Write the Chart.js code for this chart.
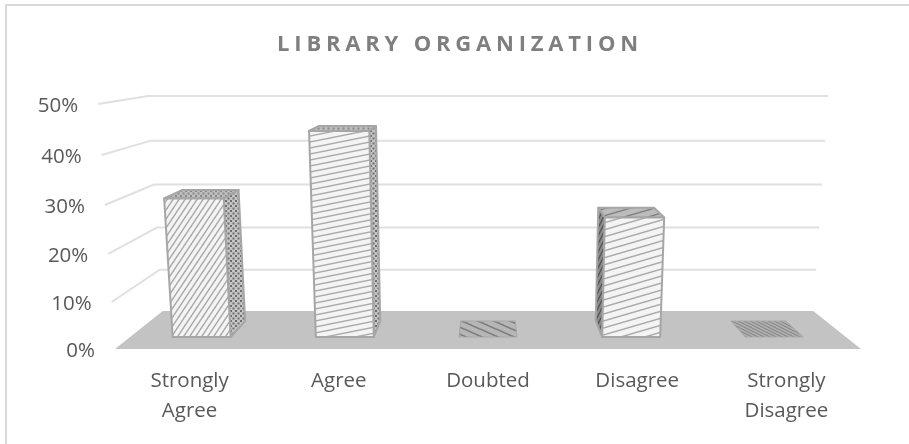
<!DOCTYPE html>
<html>
<head>
<meta charset="utf-8">
<title>Library Organization</title>
<script src="https://cdn.jsdelivr.net/npm/chart.js@4"></script>
<style>
  html, body { margin: 0; padding: 0; background: #fff; }
  #wrap { position: absolute; left: 0; top: 0; width: 909px; height: 444px; }
  #frame { position: absolute; left: 5px; top: 4px; right: 0; bottom: 0; border-left: 2px solid #d9d9d9; border-top: 2px solid #d9d9d9; }
  canvas { position: absolute; left: 0; top: 0; filter: blur(0.4px); }
</style>
</head>
<body>
<div id="wrap">
  <div id="frame"></div>
  <canvas id="orgChart" width="909" height="444"></canvas>
</div>
<script>
const categories = [['Strongly', 'Agree'], 'Agree', 'Doubted', 'Disagree', ['Strongly', 'Disagree']];
const percentages = [30, 44, 0, 26, 0];
const tickStep = 10;
const axisMax = 50;

// the picture is a 3d chart, so everything is projected from the front plane of the floor
const floorDepth = 38;
const faceDepth = 0.316;
const backDepth = 0.737;

function makePattern(w, h, bg, fg, lineW, dots) {
  const c = document.createElement('canvas');
  c.width = w;
  c.height = h;
  const g = c.getContext('2d');
  g.fillStyle = bg;
  g.fillRect(0, 0, w, h);
  g.strokeStyle = fg;
  g.fillStyle = fg;
  g.lineWidth = Math.abs(lineW);
  if (dots) {
    g.fillRect(0, 0, 2, 2);
    g.fillRect(w / 2, h / 2, 2, 2);
  } else {
    for (let i = -1; i <= 1; i++) {
      for (let j = -1; j <= 1; j++) {
        g.beginPath();
        if (lineW < 0) {
          g.moveTo(i * w, j * h);
          g.lineTo(w + i * w, h + j * h);
        } else {
          g.moveTo(i * w, h + j * h);
          g.lineTo(w + i * w, j * h);
        }
        g.stroke();
      }
    }
  }
  return g.createPattern(c, 'repeat');
}

const ctx = document.getElementById('orgChart');
const faceFill = [
  makePattern(6, 9, '#f4f4f4', '#ababab', 1.5),
  makePattern(30, 6, '#f4f4f4', '#ababab', 1.4),
  '#b4b4b4',
  makePattern(24, 7, '#f4f4f4', '#ababab', 1.5),
  '#b4b4b4'
];
const sideFill = [
  makePattern(5, 5, '#c4c4c4', '#6e6e6e', 1, true),
  makePattern(5, 5, '#c4c4c4', '#6e6e6e', 1, true),
  '#b4b4b4',
  makePattern(4, 8, '#8c8c8c', '#555555', 1.4),
  '#b4b4b4'
];
const topFill = [
  makePattern(5, 5, '#bdbdbd', '#8a8a8a', 1.2, true),
  makePattern(5, 5, '#bdbdbd', '#8a8a8a', 1.2, true),
  makePattern(16, 7, '#b6b6b6', '#7c7c7c', -1.6),
  makePattern(24, 7, '#bcbcbc', '#808080', 1.4),
  makePattern(6, 3, '#b0b0b0', '#808080', -1)
];

function polygon(g, pts, fill, stroke, lineW) {
  g.beginPath();
  pts.forEach((p, i) => i ? g.lineTo(p[0], p[1]) : g.moveTo(p[0], p[1]));
  g.closePath();
  if (fill) {
    g.fillStyle = fill;
    g.fill();
  }
  if (stroke) {
    g.strokeStyle = stroke;
    g.lineWidth = lineW;
    g.lineJoin = 'round';
    g.stroke();
  }
}

// y axis with the little bow a perspective view gives the front edge
class BowedScale extends Chart.LinearScale {
  getPixelForValue(value) {
    const t = (value - this.min) / (this.max - this.min);
    return super.getPixelForValue(value) + 3.1 * 4 * t * (1 - t);
  }
  _computeLabelItems(chartArea) {
    const items = super._computeLabelItems(chartArea);
    items.forEach((item, i) => {
      const v = this.ticks[i].value;
      item.options.translation[0] = projectX(this.chart, this.chart.chartArea.left, v, 0) - 20;
      item.options.translation[1] = this.getPixelForValue(v) + 2;
    });
    return items;
  }
}
BowedScale.id = 'bowed';
BowedScale.defaults = Chart.LinearScale.defaults;
Chart.register(BowedScale);

function projectX(chart, x, v, depth) {
  const a = chart.chartArea;
  const cx = (a.left + a.right) / 2;
  return cx + (x - cx) * (1 - 0.128 * depth) * (1 + 0.0009 * v);
}

function projectY(chart, v, depth) {
  const s = chart.scales.y;
  const y0 = s.getPixelForValue(0);
  return y0 - floorDepth * depth - (y0 - s.getPixelForValue(v)) * (1 - 0.122 * depth);
}

Chart.BarElement.prototype.draw = function (g) {
  const chart = this.$chart;
  const i = this.$index;
  const v = chart.data.datasets[0].data[i];
  const left = this.x - this.width / 2;
  const right = this.x + this.width / 2;
  const P = (x, val, d) => [projectX(chart, x, val, d), projectY(chart, val, d)];
  const edge = '#a6a6a6';

  const cx = (chart.chartArea.left + chart.chartArea.right) / 2;
  g.save();
  polygon(g, [P(left, v, backDepth), P(right, v, backDepth), P(right, v, faceDepth), P(left, v, faceDepth)], topFill[i], v ? edge : '#a9a9a9', v ? 2 : 1);
  if (v > 0) {
    const sx = this.x < cx ? right : left;
    polygon(g, [P(sx, 0, faceDepth), P(sx, v, faceDepth), P(sx, v, backDepth), P(sx, 0, backDepth)], sideFill[i], edge, 2);
    polygon(g, [P(left, 0, faceDepth), P(right, 0, faceDepth), P(right, v, faceDepth), P(left, v, faceDepth)], faceFill[i], edge, 2);
  }
  g.restore();
};

const wallAndFloor = {
  id: 'wallAndFloor',
  beforeDatasetsDraw(chart) {
    const g = chart.ctx;
    const a = chart.chartArea;
    chart.getDatasetMeta(0).data.forEach((bar, i) => {
      bar.$chart = chart;
      bar.$index = i;
    });
    g.save();
    g.strokeStyle = '#e0e0e0';
    g.lineWidth = 2;
    chart.scales.y.ticks.forEach(t => {
      if (t.value === 0) return;
      g.beginPath();
      g.moveTo(projectX(chart, a.left, t.value, 0), projectY(chart, t.value, 0));
      g.lineTo(projectX(chart, a.left, t.value, 1), projectY(chart, t.value, 1));
      g.lineTo(projectX(chart, a.right, t.value, 1), projectY(chart, t.value, 1));
      g.stroke();
    });
    polygon(g, [
      [projectX(chart, a.left, 0, 0), projectY(chart, 0, 0)],
      [projectX(chart, a.left, 0, 1), projectY(chart, 0, 1)],
      [projectX(chart, a.right, 0, 1), projectY(chart, 0, 1)],
      [projectX(chart, a.right, 0, 0), projectY(chart, 0, 0)]
    ], '#c3c3c3');
    g.restore();
  }
};

const spacedTitle = {
  id: 'spacedTitle',
  afterLayout(chart) {
    const block = chart.titleBlock;
    if (block.$spaced) return;
    block.$spaced = true;
    const draw = block.draw;
    block.draw = function () {
      chart.ctx.save();
      chart.ctx.letterSpacing = '4.8px';
      chart.ctx.translate(26, 0);
      draw.apply(block, arguments);
      chart.ctx.restore();
    };
  }
};

new Chart(ctx, {
  type: 'bar',
  data: {
    labels: categories,
    datasets: [{
      label: 'Library Organization',
      data: percentages,
      backgroundColor: '#f4f4f4',
      borderColor: '#a6a6a6',
      barPercentage: 0.405,
      categoryPercentage: 1
    }]
  },
  plugins: [wallAndFloor, spacedTitle],
  options: {
    responsive: false,
    animation: false,
    layout: { padding: { left: 7, right: 48, top: 20, bottom: 6 } },
    plugins: {
      legend: { display: false },
      tooltip: { enabled: false },
      title: {
        display: true,
        text: 'LIBRARY ORGANIZATION',
        color: '#7f7f7f',
        font: { family: '"Open Sans"', size: 22, weight: 'bold', lineHeight: 1.2 },
        padding: { top: 12, bottom: 45.6 }
      }
    },
    scales: {
      x: {
        grid: { display: false, drawTicks: false },
        border: { display: false },
        ticks: {
          color: '#595959',
          padding: 17,
          maxRotation: 0,
          autoSkip: false,
          font: { family: '"Open Sans"', size: 20.5, lineHeight: 1.46 }
        },
        afterFit(scale) { scale.height = 89; }
      },
      y: {
        type: 'bowed',
        min: 0,
        max: axisMax,
        grid: { display: false, drawTicks: false },
        border: { display: false },
        ticks: {
          stepSize: tickStep,
          color: '#595959',
          font: { family: '"Open Sans"', size: 20.5 },
          callback: v => v + '%'
        },
        afterFit(scale) { scale.width = 108; }
      }
    }
  }
});
</script>
</body>
</html>
